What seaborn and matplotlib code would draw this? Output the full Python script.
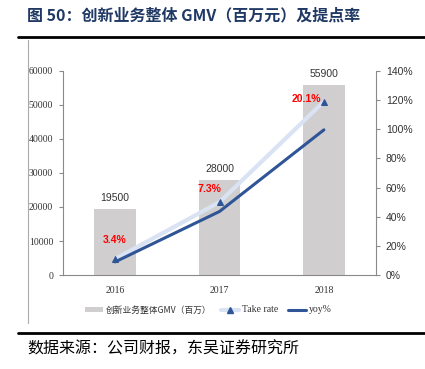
import matplotlib
matplotlib.use("Agg")
import matplotlib.pyplot as plt
import seaborn as sns
import pandas as pd
from matplotlib.lines import Line2D
from matplotlib.patches import Patch

years = ["2016", "2017", "2018"]
gmv = [19500, 28000, 55900]
take_rate_pos = [0.11, 0.50, 1.19]
take_rate_labels = ["3.4%", "7.3%", "20.1%"]
yoy = [0.09, 0.436, 0.996]
left_ticks = [0, 10000, 20000, 30000, 40000, 50000, 60000]
right_ticks = [0, 0.2, 0.4, 0.6, 0.8, 1.0, 1.2, 1.4]

sns.set_style("white")
plt.rcParams['font.family'] = ['Noto Sans CJK SC', 'DejaVu Sans']

df = pd.DataFrame({"year": years, "gmv": gmv, "take": take_rate_pos, "yoy": yoy})

fig = plt.figure(figsize=(4.25, 3.69), dpi=100)
ax = fig.add_axes([0.148, 0.2547, 0.737, 0.553])

sns.barplot(data=df, x="year", y="gmv", color="#d0cece", width=0.4, ax=ax,
            saturation=1, edgecolor="none")
ax.set_ylim(0, 60000)
ax.set_xlim(-0.5, 2.5)
ax.set_yticks(left_ticks)
ax.set_yticklabels([str(t) for t in left_ticks], family="Liberation Serif", fontsize=7, color="#333333")
ax.set_xlabel("")
ax.set_ylabel("")
ax.set_xticks([0, 1, 2])
ax.set_xticklabels(years, family="Liberation Serif", fontsize=7, color="#333333")
ax.tick_params(axis="x", length=0, pad=8)
ax.set_xticks([-0.5, 0.5, 1.5, 2.5], minor=True)
ax.tick_params(axis="x", which="minor", length=4, color="#898989", direction="out")
ax.tick_params(axis="y", length=3, color="#898989", direction="out", left=True, pad=4)
for s in ["top", "right"]:
    ax.spines[s].set_visible(False)
for s in ["left", "bottom"]:
    ax.spines[s].set_color("#898989")
    ax.spines[s].set_linewidth(0.8)

for i, v in enumerate(gmv):
    ax.text(i, v + 1800, str(v), ha="center", va="bottom", fontsize=7.5,
            family="Liberation Sans", color="#333333")

ax2 = ax.twinx()
sns.lineplot(data=df, x="year", y="take", ax=ax2, color="#dae3f3", linewidth=3,
             marker="^", markersize=5, markerfacecolor="#2f5597", markeredgecolor="#2f5597",
             sort=False)
sns.lineplot(data=df, x="year", y="yoy", ax=ax2, color="#2f5597", linewidth=2.2, sort=False)
ax2.set_ylim(0, 1.4)
ax2.set_xlim(-0.5, 2.5)
ax2.set_yticks(right_ticks)
ax2.set_yticklabels([f"{int(round(t*100))}%" for t in right_ticks], family="Liberation Sans",
                    fontsize=7.5, color="#333333")
ax2.set_ylabel("")
ax2.set_xlabel("")
ax2.tick_params(axis="y", length=3, color="#898989", direction="out", right=True, pad=4)
for s in ["top", "left", "bottom"]:
    ax2.spines[s].set_visible(False)
ax2.spines["right"].set_color("#898989")
ax2.spines["right"].set_linewidth(0.8)

label_offsets = [0.13, 0.09, 0.02]
label_dx = [0.0, -0.1, -0.17]
for i, (v, lab) in enumerate(zip(take_rate_pos, take_rate_labels)):
    ax2.text(i + label_dx[i], v + label_offsets[i], lab, ha="center", va="center",
             fontsize=7.5, fontweight="bold", color="#ff0000", family="Liberation Sans")

handles = [
    Patch(facecolor="#d0cece", edgecolor="none"),
    Line2D([0], [0], color="#dae3f3", linewidth=3, marker="^", markersize=4,
           markerfacecolor="#2f5597", markeredgecolor="#2f5597"),
    Line2D([0], [0], color="#2f5597", linewidth=2.2),
]
labels = ["创新业务整体GMV（百万）", "Take rate", "yoy%"]
leg = fig.legend(handles, labels, loc="center", bbox_to_anchor=(0.49, 0.16), ncol=3,
                 frameon=False, handlelength=2.0, handletextpad=0.3, handleheight=0.6,
                 columnspacing=1.2, prop={"family": ["Noto Sans CJK SC", "Liberation Serif"], "size": 6.3})
texts = leg.get_texts()
for t in texts:
    t.set_color("#333333")
for t in texts[1:]:
    t.set_fontfamily("Liberation Serif")
    t.set_fontsize(7)

fig.text(0.064, 0.958, "图 50：创新业务整体 GMV（百万元）及提点率", fontsize=11.5,
         fontweight="bold", color="#1f3864", va="center", ha="left")
fig.add_artist(Line2D([0.042, 1.0], [0.900, 0.900], color="black", linewidth=2))
fig.add_artist(Line2D([0.042, 1.0], [0.097, 0.097], color="black", linewidth=2))
fig.add_artist(Line2D([0.066, 0.066], [0.125, 0.892], color="#aaaaaa", linewidth=0.8))
fig.text(0.064, 0.055, "数据来源：公司财报，东吴证券研究所", fontsize=11.5, color="black",
         va="center", ha="left")

fig.savefig("out.png", dpi=100)
